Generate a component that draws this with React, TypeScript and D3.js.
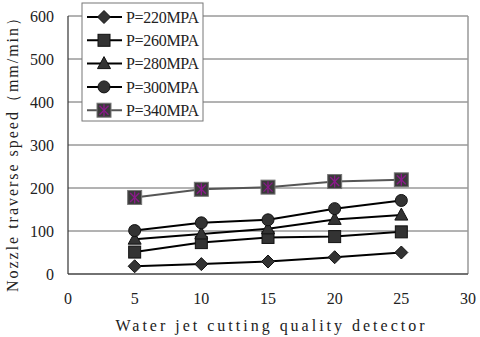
import React from 'react';
import * as d3 from 'd3';

const xValues = [5, 10, 15, 20, 25];
const p220 = [18, 23, 29, 39, 50];
const p260 = [51, 73, 85, 87, 98];
const p280 = [81, 93, 105, 127, 137];
const p300 = [101, 119, 126, 152, 171];
const p340 = [178, 197, 202, 215, 219];
const seriesNames = ['P=220MPA', 'P=260MPA', 'P=280MPA', 'P=300MPA', 'P=340MPA'];
const xTicks = [0, 5, 10, 15, 20, 25, 30];
const yTicks = [0, 100, 200, 300, 400, 500, 600];

const W = 480;
const H = 337;
const margin = { left: 68, right: 12, top: 16, bottom: 63 };

const series = [
  { name: seriesNames[0], values: p220, shape: 'diamond', color: '#000' },
  { name: seriesNames[1], values: p260, shape: 'square', color: '#000' },
  { name: seriesNames[2], values: p280, shape: 'triangle', color: '#000' },
  { name: seriesNames[3], values: p300, shape: 'circle', color: '#000' },
  { name: seriesNames[4], values: p340, shape: 'star', color: '#555' },
];

const font = '"Liberation Serif", "DejaVu Serif", serif';

function Marker({ shape, cx, cy }: { shape: string; cx: number; cy: number }) {
  const fill = '#333';
  if (shape === 'diamond') {
    const r = 6.5;
    return <path d={`M${cx},${cy - r}L${cx + r},${cy}L${cx},${cy + r}L${cx - r},${cy}Z`} fill={fill} stroke="#111" />;
  }
  if (shape === 'square') {
    return <rect x={cx - 6} y={cy - 6} width={12} height={12} fill={fill} stroke="#111" />;
  }
  if (shape === 'triangle') {
    return <path d={`M${cx},${cy - 7}L${cx + 6.5},${cy + 5}L${cx - 6.5},${cy + 5}Z`} fill={fill} stroke="#111" />;
  }
  if (shape === 'circle') {
    return <circle cx={cx} cy={cy} r={6} fill={fill} stroke="#111" />;
  }
  const s = 7;
  const a = 4.5;
  return (
    <g>
      <rect x={cx - s} y={cy - s} width={2 * s} height={2 * s} fill="#3a3a3a" stroke="#777" strokeWidth={1} />
      <g stroke="#8a1a8a" strokeWidth={1.3}>
        <line x1={cx - a} y1={cy - a} x2={cx + a} y2={cy + a} />
        <line x1={cx - a} y1={cy + a} x2={cx + a} y2={cy - a} />
        <line x1={cx} y1={cy - s + 1} x2={cx} y2={cy + s - 1} />
      </g>
    </g>
  );
}

export default function App() {
  const x = d3.scaleLinear().domain([0, 30]).range([margin.left, W - margin.right]);
  const y = d3.scaleLinear().domain([0, 600]).range([H - margin.bottom, margin.top]);
  const line = d3
    .line<number>()
    .x((_, i) => x(xValues[i]))
    .y((d) => y(d));

  const legendX = 82;
  const legendY = 3;
  const rowH = 23.3;

  return (
    <svg width={W} height={H} style={{ position: 'absolute', left: 0, top: 0 }} fontFamily={font}>
      <rect width={W} height={H} fill="#fff" />
      {yTicks.map((t) => (
        <line key={t} x1={x(0)} x2={x(30)} y1={y(t)} y2={y(t)} stroke="#666" strokeWidth={1} />
      ))}
      <line x1={x(30)} x2={x(30)} y1={y(600)} y2={y(0)} stroke="#999" strokeWidth={1.5} />
      <line x1={x(0)} x2={x(0)} y1={y(600)} y2={y(0)} stroke="#333" strokeWidth={1.2} />
      <line x1={x(0)} x2={x(30)} y1={y(0)} y2={y(0)} stroke="#333" strokeWidth={1.2} />
      {yTicks.map((t) => (
        <text key={t} x={x(0) - 14} y={y(t)} dy="0.35em" textAnchor="end" fontSize={16} fill="#222">
          {t}
        </text>
      ))}
      {xTicks.map((t) => (
        <text key={t} x={x(t)} y={y(0) + 30} textAnchor="middle" fontSize={16} fill="#222">
          {t}
        </text>
      ))}
      <text x={(x(0) + x(30)) / 2 + 2} y={331} textAnchor="middle" fontSize={16} fill="#222" textLength={309} lengthAdjust="spacing">
        Water jet cutting quality detector
      </text>
      <text
        transform={`translate(18,151) rotate(-90)`}
        textAnchor="middle"
        fontSize={16}
        fill="#222"
        textLength={282}
        lengthAdjust="spacing"
      >
        Nozzle traverse speed（mm/min）
      </text>
      {series.map((s) => (
        <g key={s.name}>
          <path d={line(s.values) || ''} fill="none" stroke={s.color} strokeWidth={2} />
          {s.values.map((v, i) => (
            <Marker key={i} shape={s.shape} cx={x(xValues[i])} cy={y(v)} />
          ))}
        </g>
      ))}
      <rect x={legendX} y={legendY} width={121} height={118} fill="#fff" stroke="#777" strokeWidth={1} />
      {series.map((s, i) => {
        const cy = legendY + 14 + i * rowH;
        return (
          <g key={s.name}>
            <line x1={legendX + 5} x2={legendX + 40} y1={cy} y2={cy} stroke={s.color} strokeWidth={2} />
            <Marker shape={s.shape} cx={legendX + 22} cy={cy} />
            <text x={legendX + 44} y={cy} dy="0.35em" fontSize={16} fill="#222" textLength={73} lengthAdjust="spacing">
              {s.name}
            </text>
          </g>
        );
      })}
    </svg>
  );
}
